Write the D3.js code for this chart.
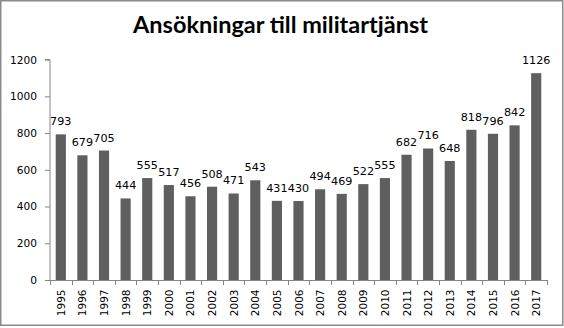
<!DOCTYPE html>
<html>
<head>
<meta charset="utf-8">
<script src="https://cdn.jsdelivr.net/npm/d3@7"></script>
<style>
  html, body { margin: 0; padding: 0; background: #fff; }
  svg { display: block; }
</style>
</head>
<body>
<svg id="chart" width="564" height="328"></svg>
<script>
// Annual applications for military service, 1995–2017
const years = ["1995","1996","1997","1998","1999","2000","2001","2002","2003","2004","2005","2006",
               "2007","2008","2009","2010","2011","2012","2013","2014","2015","2016","2017"];
const applications = [793,679,705,444,555,517,456,508,471,543,431,430,
                      494,469,522,555,682,716,648,818,796,842,1126];
const yTicks = [0,200,400,600,800,1000,1200];
const titleText = "Ansökningar till militartjänst";

const W = 564, H = 328;
const plot = { left: 50, right: 547, top: 59.6, bottom: 280 };
const axisColor = "#868686";
const barColor = "#5f5f5f";
const font = "'DejaVu Sans', Verdana, sans-serif";

const svg = d3.select("#chart");

// outer frame
svg.append("rect")
  .attr("x", 0.75).attr("y", 0.75).attr("width", 562).attr("height", 324.5)
  .attr("fill", "#fff").attr("stroke", "#8a8a8a").attr("stroke-width", 1.5);

// title, sized to its fixed span
const title = svg.append("text")
  .attr("x", 280.5).attr("y", 33)
  .attr("text-anchor", "middle")
  .attr("font-family", "Lato, 'Open Sans', sans-serif")
  .attr("font-weight", "bold")
  .attr("font-size", 22)
  .attr("fill", "#000")
  .text(titleText);
const tw = title.node().getComputedTextLength();
title.attr("font-size", 22 * 295 / tw);

const x = d3.scaleBand().domain(years).range([plot.left, plot.right]).paddingInner(0.53).paddingOuter(0.265);
const xb = d3.scaleBand().domain(years).range([plot.left, plot.right]);
const y = d3.scaleLinear().domain([0, 1200]).range([plot.bottom, plot.top]);

// bars
svg.append("g").selectAll("rect")
  .data(applications)
  .join("rect")
  .attr("x", (d, i) => x(years[i]))
  .attr("width", x.bandwidth())
  .attr("y", d => y(d))
  .attr("height", d => y(0) - y(d))
  .attr("fill", barColor);

// value labels
svg.append("g").selectAll("text")
  .data(applications)
  .join("text")
  .attr("x", (d, i) => xb(years[i]) + xb.bandwidth() / 2)
  .attr("y", d => y(d) - 9)
  .attr("text-anchor", "middle")
  .attr("font-family", font)
  .attr("font-size", 11.2)
  .attr("fill", "#000")
  .text(d => d);

// y axis
const yAxis = svg.append("g")
  .attr("transform", `translate(${plot.left},0)`)
  .call(d3.axisLeft(y).tickValues(yTicks).tickSize(5).tickPadding(8).tickFormat(d3.format("d")));
yAxis.select(".domain").attr("stroke", axisColor).attr("d", `M-5,${y(1200)}H0V${y(0)}`);
yAxis.selectAll(".tick line").attr("stroke", axisColor);
yAxis.selectAll(".tick text").attr("font-family", font).attr("font-size", 10.6).attr("fill", "#000");

// x axis: tick marks on category boundaries
const xAxisG = svg.append("g");
xAxisG.append("line")
  .attr("x1", plot.left).attr("x2", plot.right)
  .attr("y1", plot.bottom + 0.5).attr("y2", plot.bottom + 0.5)
  .attr("stroke", axisColor);
const bounds = years.map(yr => xb(yr)).concat([plot.right]);
xAxisG.selectAll("line.tk")
  .data(bounds)
  .join("line")
  .attr("class", "tk")
  .attr("x1", d => Math.round(d) + 0.5).attr("x2", d => Math.round(d) + 0.5)
  .attr("y1", plot.bottom).attr("y2", plot.bottom + 5)
  .attr("stroke", axisColor);
xAxisG.selectAll("text")
  .data(years)
  .join("text")
  .attr("transform", d => `translate(${xb(d) + xb.bandwidth() / 2 + 4},${plot.bottom + 9.5}) rotate(-90)`)
  .attr("text-anchor", "end")
  .attr("font-family", font)
  .attr("font-size", 10.5)
  .attr("fill", "#000")
  .text(d => d);
</script>
</body>
</html>
